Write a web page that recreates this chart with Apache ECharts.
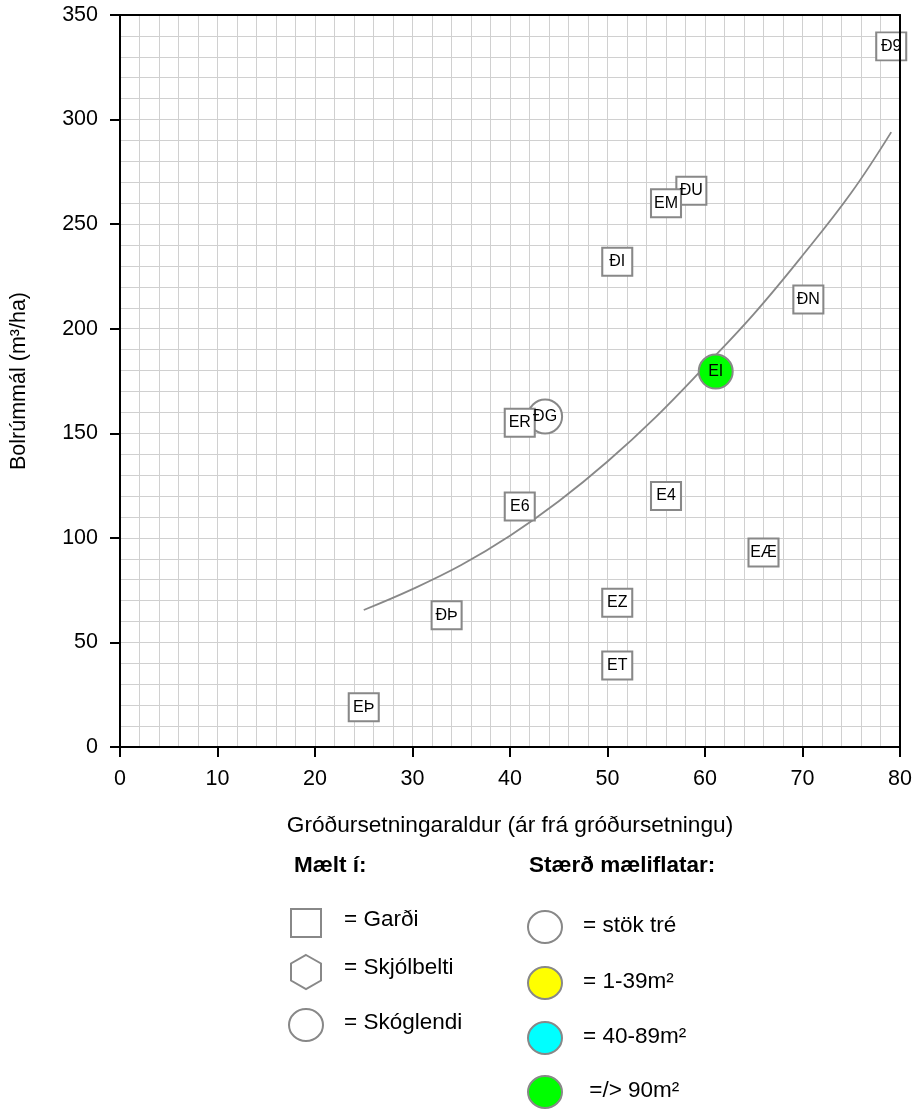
<!DOCTYPE html>
<html>
<head>
<meta charset="utf-8">
<script src="https://cdn.jsdelivr.net/npm/echarts/dist/echarts.min.js"></script>
<style>
html,body{margin:0;padding:0;background:#fff;}
#chart{width:916px;height:1110px;}
</style>
</head>
<body>
<div id="chart"></div>
<script>
// ---- data ----
var gardiNames = ['Ð9','ÐU','EM','ÐI','ÐN','ER','E6','E4','EÆ','EZ','ET','ÐÞ','EÞ'];
var gardiX = [79.1, 58.6, 56.0, 51.0, 70.6, 41.0, 41.0, 56.0, 66.0, 51.0, 51.0, 33.5, 25.0];
var gardiY = [335, 266, 260, 232, 214, 155, 115, 120, 93, 69, 39, 63, 19];

var skogNames = ['ÐG','EI'];
var skogX = [43.6, 61.1];
var skogY = [158, 179.5];
var skogSize = ['stök tré', '=/> 90m²'];

var trendX = [25, 30, 35, 40, 45, 50, 55, 60, 65, 70, 75, 79.1];
var trendY = [65.5, 75.5, 87, 101, 117.5, 136.5, 158, 182, 207, 235, 265, 294];

var xTicks = [0, 10, 20, 30, 40, 50, 60, 70, 80];
var yTicks = [0, 50, 100, 150, 200, 250, 300, 350];

var sizeClasses = ['stök tré', '1-39m²', '40-89m²', '=/> 90m²'];
var sizeColors = ['#ffffff', '#ffff00', '#00ffff', '#00ff00'];

// ---- build ----
var FONT = '"Liberation Sans", Arial, sans-serif';
var colorOf = function (cls) { return sizeColors[sizeClasses.indexOf(cls)]; };

var gardiData = gardiNames.map(function (n, i) { return { name: n, value: [gardiX[i], gardiY[i]] }; });
var skogData = skogNames.map(function (n, i) {
  return { name: n, value: [skogX[i], skogY[i]], itemStyle: { color: colorOf(skogSize[i]) } };
});
var skogLabelData = skogNames.map(function (n, i) {
  return { name: n, value: [skogX[i], skogY[i]], itemStyle: { color: colorOf(skogSize[i]) } };
});
var trendData = trendX.map(function (x, i) { return [x, trendY[i]]; });

var xMin = xTicks[0], xMax = xTicks[xTicks.length - 1];
var yMin = yTicks[0], yMax = yTicks[yTicks.length - 1];

var markLabel = { show: true, position: 'inside', formatter: '{b}', color: '#000', fontSize: 16, fontFamily: FONT, textBorderWidth: 0, opacity: 1 };

var chart = echarts.init(document.getElementById('chart'), null, { renderer: 'canvas' });

var LF = '22.5px ' + FONT;
var legendGraphics = [];
// headings
legendGraphics.push({ type: 'text', x: 294, y: 866, style: { text: 'Mælt í:', fill: '#000', font: 'bold 22.5px ' + FONT, textVerticalAlign: 'middle' } });
legendGraphics.push({ type: 'text', x: 529, y: 866, style: { text: 'Stærð mæliflatar:', fill: '#000', font: 'bold 22.5px ' + FONT, textVerticalAlign: 'middle' } });
// left column
legendGraphics.push({ type: 'rect', shape: { x: 291, y: 909, width: 30, height: 28 }, style: { fill: '#fff', stroke: '#888', lineWidth: 2 } });
legendGraphics.push({ type: 'text', x: 344, y: 920, style: { text: '= Garði', fill: '#000', font: LF, textVerticalAlign: 'middle' } });
legendGraphics.push({ type: 'polygon', shape: { points: [[306, 955], [321, 963.5], [321, 980.5], [306, 989], [291, 980.5], [291, 963.5]] }, style: { fill: '#fff', stroke: '#888', lineWidth: 2 } });
legendGraphics.push({ type: 'text', x: 344, y: 968, style: { text: '= Skjólbelti', fill: '#000', font: LF, textVerticalAlign: 'middle' } });
legendGraphics.push({ type: 'ellipse', shape: { cx: 306, cy: 1025, rx: 17, ry: 16 }, style: { fill: '#fff', stroke: '#888', lineWidth: 2 } });
legendGraphics.push({ type: 'text', x: 344, y: 1023, style: { text: '= Skóglendi', fill: '#000', font: LF, textVerticalAlign: 'middle' } });
// right column
var rightY = [927, 983, 1038, 1092];
var rightText = ['= stök tré', '= 1-39m²', '= 40-89m²', ' =/> 90m²'];
for (var k = 0; k < 4; k++) {
  legendGraphics.push({ type: 'ellipse', shape: { cx: 545, cy: rightY[k], rx: 17, ry: 16 }, style: { fill: sizeColors[k], stroke: '#888', lineWidth: 2 } });
  legendGraphics.push({ type: 'text', x: 583, y: rightY[k] - 1, style: { text: rightText[k], fill: '#000', font: LF, textVerticalAlign: 'middle' } });
}

var option = {
  animation: false,
  backgroundColor: '#fff',
  textStyle: { fontFamily: FONT },
  grid: { left: 120, right: 16, top: 15, bottom: 363, containLabel: false },
  xAxis: [
    {
      type: 'value', min: xMin, max: xMax, interval: 10, position: 'bottom', z: 10,
      axisLine: { show: true, lineStyle: { color: '#000', width: 2 } },
      axisTick: { show: true, length: 10, lineStyle: { color: '#000', width: 2 } },
      axisLabel: { show: true, color: '#000', fontSize: 21.5, margin: 21, fontFamily: FONT },
      splitLine: { show: false },
      name: 'Gróðursetningaraldur (ár frá gróðursetningu)', nameLocation: 'middle', nameGap: 67,
      nameTextStyle: { color: '#000', fontSize: 22.7, fontFamily: FONT }
    },
    {
      type: 'value', min: xMin, max: xMax, position: 'top', z: 10,
      axisLine: { show: true, onZero: false, lineStyle: { color: '#000', width: 2 } },
      axisTick: { show: false }, axisLabel: { show: false }, splitLine: { show: false }
    },
    {
      type: 'value', min: xMin, max: xMax, interval: 2, position: 'bottom', z: 1,
      axisLine: { show: false }, axisTick: { show: false }, axisLabel: { show: false },
      splitLine: { show: true, lineStyle: { color: '#d0d0d0', width: 1 } }
    }
  ],
  yAxis: [
    {
      type: 'value', min: yMin, max: yMax, interval: 50, position: 'left', z: 10,
      axisLine: { show: true, onZero: false, lineStyle: { color: '#000', width: 2 } },
      axisTick: { show: true, length: 10, lineStyle: { color: '#000', width: 2 } },
      axisLabel: { show: true, color: '#000', fontSize: 21.5, margin: 22, fontFamily: FONT },
      splitLine: { show: false },
      name: 'Bolrúmmál (m³/ha)', nameLocation: 'middle', nameGap: 90, nameRotate: 90,
      nameTextStyle: { color: '#000', fontSize: 21.5, fontFamily: FONT }
    },
    {
      type: 'value', min: yMin, max: yMax, position: 'right', z: 10,
      axisLine: { show: true, onZero: false, lineStyle: { color: '#000', width: 2 } },
      axisTick: { show: false }, axisLabel: { show: false }, splitLine: { show: false }
    },
    {
      type: 'value', min: yMin, max: yMax, interval: 10, position: 'left', z: 1,
      axisLine: { show: false }, axisTick: { show: false }, axisLabel: { show: false },
      splitLine: { show: true, lineStyle: { color: '#d0d0d0', width: 1 } }
    }
  ],
  series: [
    {
      type: 'line', name: 'trend', data: trendData, smooth: 0.4, showSymbol: false, symbol: 'none',
      lineStyle: { color: '#888', width: 1.8 }, z: 3, silent: true
    },
    {
      type: 'scatter', name: 'Skóglendi', data: skogData, symbol: 'circle', symbolSize: 34,
      itemStyle: { borderColor: '#888', borderWidth: 2, opacity: 1 }, label: { show: false }, z: 4
    },
    {
      type: 'scatter', name: 'Garði', data: gardiData, symbol: 'rect', symbolSize: [30, 28],
      itemStyle: { color: '#fff', borderColor: '#888', borderWidth: 2, opacity: 1 }, label: markLabel, z: 5
    },
    {
      type: 'scatter', name: 'Skóglendi-merki', data: skogLabelData, symbol: 'circle', symbolSize: 1,
      itemStyle: { borderWidth: 0, opacity: 1 }, label: markLabel, z: 6, silent: true
    }
  ],
  graphic: legendGraphics
};
chart.setOption(option);
</script>
</body>
</html>
